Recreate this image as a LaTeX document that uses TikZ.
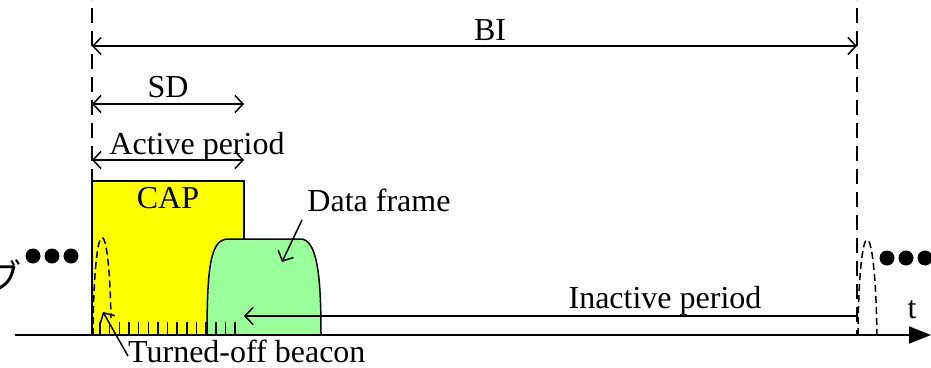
\documentclass[tikz,border=0pt]{standalone}
\usepackage{fontspec}
\setmainfont{Liberation Serif}
\newfontfamily\cjk{Noto Sans CJK JP}
\usetikzlibrary{arrows.meta}
\definecolor{capyellow}{RGB}{255,255,0}
\definecolor{framegreen}{RGB}{153,255,153}
\tikzset{
  lbl/.style={font=\fontsize{32}{38}\selectfont, inner sep=0pt, anchor=base},
  dimline/.style={line width=1.5pt, {Straight Barb[length=8pt,width=17pt,line width=1.5pt]}-{Straight Barb[length=8pt,width=17pt,line width=1.5pt]}},
  onearrow/.style={line width=1.5pt, -{Straight Barb[length=8pt,width=17pt,line width=1.5pt]}},
  bigdash/.style={line width=1.5pt, dash pattern=on 15pt off 8pt, dash phase=-8pt},
  smalldash/.style={line width=1.5pt, dash pattern=on 7pt off 4pt},
  tick/.style={line width=1.5pt},
  dotc/.style={fill=black, circle, minimum size=15pt, inner sep=0pt},
}
\begin{document}
\begin{tikzpicture}[x=1pt,y=-1pt]
\useasboundingbox (0,0) rectangle (931,367);
% coordinates
\coordinate (Lt) at (92,0);
\coordinate (Lb) at (92,335);
\coordinate (Rt) at (857,0);
\coordinate (Rb) at (857,335);
\coordinate (BIl) at (92,46);
\coordinate (BIr) at (857,46);
\coordinate (SDl) at (92,104);
\coordinate (SDr) at (244,104);
\coordinate (APl) at (92,160);
\coordinate (APr) at (244,160);
\coordinate (IPr) at (857,316);
\coordinate (IPl) at (244,316);
\coordinate (Ax0) at (15,335);
\coordinate (Ax1) at (931,335);
% CAP box
\filldraw[fill=capyellow, draw=black, line width=1.5pt] (92,181) rectangle (244,335);
% data frame shape
\filldraw[fill=framegreen, draw=black, line width=1.5pt]
  (207,335) .. controls (207,265) and (211,239) .. (228,239)
  -- (302,239) .. controls (318,242) and (321,280) .. (321,335);
% ticks
\foreach \i in {0,...,14}{
  \draw[tick] ({100+9.65*\i},322) -- ({100+9.65*\i},335);
}
% vertical dashed lines
\draw[bigdash] (Lt) -- (Lb);
\draw[bigdash] (Rt) -- (Rb);
% dimension arrows
\draw[dimline] (BIl) -- (BIr);
\draw[dimline] (SDl) -- (SDr);
\draw[dimline] (APl) -- (APr);
\draw[onearrow] (IPr) -- (IPl);
% time axis
\draw[line width=1.5pt, -{Triangle[length=22pt,width=17pt]}] (Ax0) -- (Ax1);
% beacons
\draw[smalldash] (93,335) .. controls (94,208) and (109,208) .. (111,318);
\draw[smalldash] (858,335) .. controls (859,208) and (875,208) .. (877,335);
% labels
\node[lbl] (bi) at (490,40) {BI};
\node[lbl] (sd) at (168,97) {SD};
\node[lbl] (ap) at (197,154) {Active period};
\node[lbl] (cap) at (168,208) {CAP};
\node[lbl] (df) at (379,211) {Data frame};
\node[lbl] (ip) at (665,308) {Inactive period};
\node[lbl] (t) at (912,318) {t};
\node[lbl, anchor=base west] (tob) at (128,362) {Turned-off beacon};
\coordinate (dfa) at (302,220);
\coordinate (dfb) at (282,262);
\draw[onearrow] (dfa) -- (dfb);
\coordinate (toa) at (128,356);
\coordinate (tob2) at (103,312);
\draw[onearrow] (toa) -- (tob2);
% dots
\node[dotc] (d1) at (33,256) {};
\node[dotc] (d2) at (52,256) {};
\node[dotc] (d3) at (71,256) {};
\node[dotc] (d4) at (887,258) {};
\node[dotc] (d5) at (906,258) {};
\node[dotc] (d6) at (925,258) {};
% cut-off character
\node[font=\cjk\fontsize{36}{40}\selectfont, inner sep=0pt, anchor=east] (bu) at (22,276) {ブ};
\end{tikzpicture}
\end{document}
